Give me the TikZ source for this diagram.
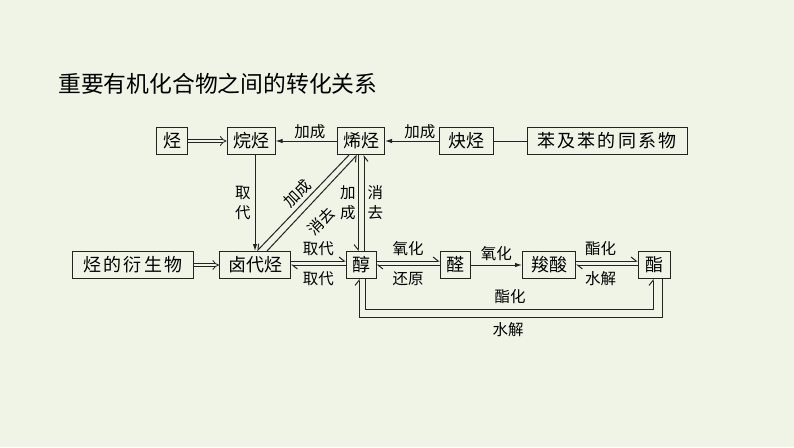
\documentclass[tikz,border=0pt]{standalone}
\usepackage{fontspec}
\newfontfamily\cjk{Noto Sans CJK SC}
\newfontfamily\cjkwide[LetterSpace=12]{Noto Sans CJK SC}
\usetikzlibrary{arrows.meta}
\definecolor{bgpaper}{RGB}{239,244,231}
\definecolor{ink}{RGB}{35,35,35}

\tikzset{
	box/.style={draw=ink, line width=1pt, minimum height=27pt, inner sep=0pt,
		font=\cjk\fontsize{18}{18}\selectfont, text=black},
	lbl/.style={font=\cjk\fontsize{15.5}{20}\selectfont, inner sep=1pt, text=black},
	arr/.style={draw=ink, line width=1pt, -{Latex[length=7pt,width=4.5pt]}},
	harp/.style={draw=ink, line width=1pt, -{Straight Barb[left,length=5pt,width=8pt]}},
	harpr/.style={draw=ink, line width=1pt, -{Straight Barb[right,length=5pt,width=8pt]}},
	imply/.style={draw=ink, double=bgpaper, double distance=2.6pt, line width=0.8pt, -{Implies}},
}

\begin{document}
\begin{tikzpicture}[x=1pt,y=-1pt]
	\fill[bgpaper] (0,0) rectangle (794,447);
	
	\node[anchor=west, inner sep=0pt, font=\cjk\fontsize{22.8}{23}\selectfont] (title) at (58,84) {重要有机化合物之间的转化关系};
	
	% upper row
	\node[box, minimum width=31pt] (hc) at (172,141) {烃};
	\node[box, minimum width=48pt] (alk) at (251,141) {烷烃};
	\node[box, minimum width=47pt] (ene) at (361,141) {烯烃};
	\node[box, minimum width=54pt] (yne) at (466,141) {炔烃};
	\node[box, minimum width=160pt, font=\cjkwide\fontsize{18}{18}\selectfont] (benz) at (607,141) {苯及苯的同系物};
	
	% lower row
	\node[box, minimum width=121pt, font=\cjkwide\fontsize{18}{18}\selectfont] (deriv) at (133,265) {烃的衍生物};
	\node[box, minimum width=71pt] (halo) at (255,265) {卤代烃};
	\node[box, minimum width=30pt] (alc) at (361,265) {醇};
	\node[box, minimum width=30pt] (ald) at (455,265) {醛};
	\node[box, minimum width=53pt] (acid) at (549,265) {羧酸};
	\node[box, minimum width=32pt] (ester) at (654,265) {酯};
	
	\draw[imply] (hc) -- (alk);
	\draw[imply] (deriv) -- (halo);
	\draw[ink, line width=1pt] (benz) -- (yne);
	\draw[arr] (yne) -- (ene) node[lbl, pos=0.35, above=1pt] (l-add1) {加成};
	\draw[arr] (ene) -- (alk) node[lbl, pos=0.44, above=1pt] (l-add2) {加成};
	\draw[arr] (alk.south -| halo.north) -- (halo.north) node[lbl, midway, left=3pt, align=center] (l-sub0) {取\\代};
	
	% alkene <-> haloalkane
	\draw[harpr] ([xshift=-12]ene.south) -- ([xshift=2]halo.north);
	\draw[harpr] ([xshift=12]halo.north) -- ([xshift=-4]ene.south);
	\node[lbl, rotate=45] (l-add3) at (297,193) {加成};
	\node[lbl, rotate=45] (l-elim1) at (321,221) {消去};
	
	% alkene <-> alcohol
	\draw[harpr] ([xshift=-3]ene.south) -- ([xshift=-3]alc.north) node[lbl, midway, left=1pt, align=center] (l-add4) {加\\成};
	\draw[harpr] ([xshift=3]alc.north) -- ([xshift=3]ene.south) node[lbl, midway, right=2pt, align=center] (l-elim2) {消\\去};
	
	% lower row reactions
	\draw[harp] ([yshift=4]halo.east) -- ([yshift=4]alc.west) node[lbl, midway, above=4pt] (l-sub1) {取代};
	\draw[harp] ([yshift=0]alc.west) -- ([yshift=0]halo.east) node[lbl, midway, below=5pt] (l-sub2) {取代};
	\draw[harp] ([yshift=4]alc.east) -- ([yshift=4]ald.west) node[lbl, midway, above=4pt] (l-ox1) {氧化};
	\draw[harp] ([yshift=0]ald.west) -- ([yshift=0]alc.east) node[lbl, midway, below=5pt] (l-red) {还原};
	\draw[arr] (ald) -- (acid) node[lbl, midway, above=3pt] (l-ox2) {氧化};
	\draw[harp] ([yshift=4]acid.east) -- ([yshift=4]ester.west) node[lbl, pos=0.4, above=4pt] (l-est1) {酯化};
	\draw[harp] ([yshift=0]ester.west) -- ([yshift=0]acid.east) node[lbl, pos=0.6, below=5pt] (l-hyd1) {水解};
	
	% alcohol <-> ester loop
	\draw[harp] ([xshift=4]alc.south) -- ++(0,30) -| ([xshift=-1]ester.south);
	\draw[harp] ([xshift=8]ester.south) -- ++(0,38) -| ([xshift=-2]alc.south);
	\node[lbl] (l-est2) at (510,297) {酯化};
	\node[lbl] (l-hyd2) at (508,330) {水解};
\end{tikzpicture}
\end{document}
